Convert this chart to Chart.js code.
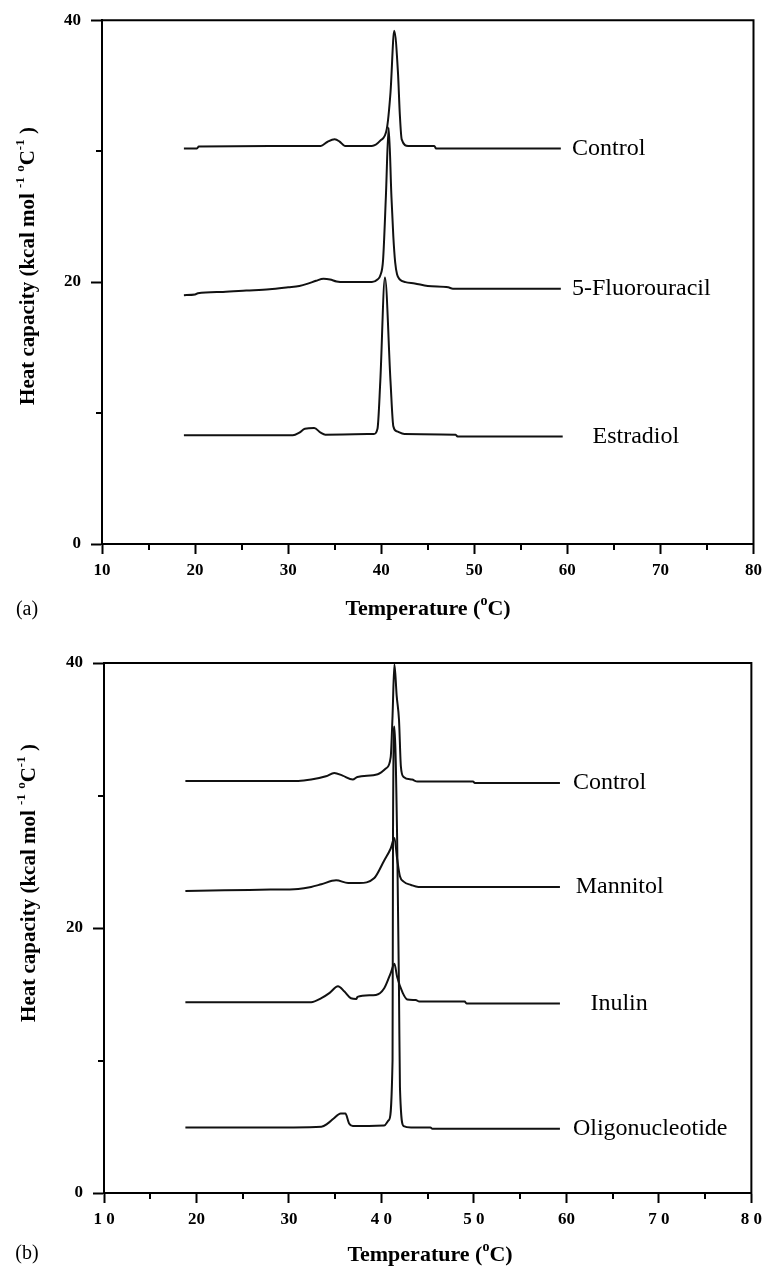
<!DOCTYPE html>
<html><head><meta charset="utf-8">
<script src="https://cdn.jsdelivr.net/npm/chart.js@4/dist/chart.umd.min.js"></script>
<style>
html,body{margin:0;padding:0;background:#fff;}
#wrap{position:relative;width:768px;height:1274px;background:#fff;}
canvas{position:absolute;left:0;}
</style>
</head><body>
<div id="wrap">
<canvas id="ca" width="768" height="637" style="top:0px"></canvas>
<canvas id="cb" width="768" height="637" style="top:637px"></canvas>
</div>
<script>
// ---------- DATA ----------
const xTickValues = [10,20,30,40,50,60,70,80];
const xTickLabelsA = ['10','20','30','40','50','60','70','80'];
const xTickLabelsB = ['1 0','20','30','4 0','5 0','60','7 0','8 0'];
const xMinorTicks = [15,25,35,45,55,65,75];
const yTickValues = [0,20,40];
const yTickLabels = ['0','20','40'];
const yMinorTicks = [10,30];

// Panel (a)
const namesA = ['Control','5-Fluorouracil','Estradiol'];
const controlA_T  = [18.8,20.2,20.4,33.5,34.2,35.0,35.5,36.1,39.0,39.9,40.6,41.0,41.4,41.8,42.0,42.2,42.9,45.7,45.9,59.3];
const controlA_Cp = [30.2,30.2,30.35,30.4,30.7,30.9,30.75,30.4,30.4,30.8,31.7,34.5,39.2,36.0,32.8,30.9,30.4,30.4,30.2,30.2];
const fluoroA_T  = [18.8,20.0,20.3,23.0,25.5,28.0,30.0,31.2,32.2,33.0,33.8,34.5,35.2,36.0,39.0,39.6,39.9,40.2,40.5,40.8,41.1,41.3,41.5,41.7,42.0,42.6,43.6,45.0,47.2,47.7,59.3];
const fluoroA_Cp = [19.0,19.05,19.15,19.25,19.35,19.45,19.6,19.7,19.9,20.1,20.25,20.2,20.05,20.0,20.0,20.2,20.5,21.7,26.5,31.8,26.5,23.5,21.5,20.6,20.2,20.0,19.9,19.7,19.6,19.5,19.5];
const estradiolA_T  = [18.8,30.5,31.2,31.8,32.8,33.5,34.0,39.2,39.6,39.9,40.4,41.0,41.3,41.7,42.5,48.0,48.2,59.5];
const estradiolA_Cp = [8.3,8.3,8.5,8.8,8.85,8.5,8.35,8.4,8.8,12.4,20.35,12.4,9.0,8.6,8.4,8.35,8.2,8.2];
const labelTA = [60.5,60.5,62.7];

// Panel (b)
const namesB = ['Control','Mannitol','Inulin','Oligonucleotide'];
const controlB_T  = [18.8,31.0,32.4,34.0,34.9,35.8,36.9,37.4,39.6,40.5,41.0,41.2,41.4,41.65,41.9,42.1,42.4,43.3,43.9,49.9,50.1,59.3];
const controlB_Cp = [31.1,31.1,31.2,31.45,31.7,31.5,31.2,31.4,31.6,32.05,32.9,36.0,39.9,37.5,35.7,32.2,31.4,31.2,31.05,31.05,30.95,30.95];
const mannitolB_T  = [18.8,23.0,28.0,31.0,32.4,33.5,35.1,36.4,37.6,39.2,40.3,41.0,41.4,41.7,42.0,42.4,43.2,44.0,59.3];
const mannitolB_Cp = [22.8,22.85,22.9,22.95,23.1,23.3,23.6,23.4,23.4,23.75,25.1,26.0,26.8,25.2,23.9,23.5,23.25,23.1,23.1];
const inulinB_T  = [18.8,32.4,33.5,34.4,35.3,36.0,36.7,37.3,37.4,39.4,40.3,41.0,41.4,41.7,42.3,42.8,43.7,44.1,49.0,49.2,59.3];
const inulinB_Cp = [14.4,14.4,14.7,15.1,15.6,15.2,14.7,14.65,14.8,14.95,15.45,16.6,17.3,16.3,15.1,14.6,14.57,14.45,14.45,14.3,14.3];
const oligoB_T  = [18.8,30.5,33.5,34.2,34.8,35.6,36.1,36.5,36.9,40.3,40.8,41.2,41.25,41.4,41.7,41.9,42.0,42.4,43.2,45.3,45.5,59.3];
const oligoB_Cp = [4.95,4.95,5.0,5.25,5.6,6.0,6.0,5.25,5.05,5.1,5.5,10.0,27.0,35.2,26.6,15.0,8.0,5.05,4.95,4.95,4.85,4.85];
const labelTB = [60.7,61.0,62.6,60.7];

// ---------- RENDERING ----------
const SERIF = '"Liberation Serif","Times New Roman",serif';

function drawRich(ctx, segs, cx, cy, size, rot) {
  ctx.save();
  ctx.translate(cx, cy);
  if (rot) ctx.rotate(rot);
  const main = 'bold ' + size + 'px ' + SERIF;
  const sup = 'bold ' + Math.round(size * 0.62) + 'px ' + SERIF;
  let w = 0;
  segs.forEach(s => { ctx.font = s.sup ? sup : main; w += ctx.measureText(s.t).width; });
  let x = -w / 2;
  ctx.textBaseline = 'alphabetic';
  ctx.textAlign = 'left';
  ctx.fillStyle = '#000';
  const base = size * 0.33;
  segs.forEach(s => {
    ctx.font = s.sup ? sup : main;
    ctx.fillText(s.t, x, base - (s.sup ? size * 0.45 : 0));
    x += ctx.measureText(s.t).width;
  });
  ctx.restore();
}

const decor = {
  id: 'decor',
  afterDraw(chart, args, o) {
    const ctx = chart.ctx, a = chart.chartArea;
    const xs = chart.scales.x, ys = chart.scales.y;
    ctx.save();
    ctx.strokeStyle = '#000';
    ctx.lineWidth = 2;
    // frame top & right
    ctx.beginPath();
    ctx.moveTo(a.left - 1, a.top);
    ctx.lineTo(a.right, a.top);
    ctx.lineTo(a.right, a.bottom + 1);
    ctx.stroke();
    // minor ticks
    ctx.beginPath();
    xMinorTicks.forEach(v => { const px = Math.round(xs.getPixelForValue(v)); ctx.moveTo(px, a.bottom); ctx.lineTo(px, a.bottom + 6); });
    yMinorTicks.forEach(v => { const py = Math.round(ys.getPixelForValue(v)); ctx.moveTo(a.left, py); ctx.lineTo(a.left - 6, py); });
    ctx.stroke();
    // series labels
    ctx.fillStyle = '#000';
    ctx.font = o.labelSize + 'px ' + SERIF;
    ctx.textAlign = 'left';
    ctx.textBaseline = 'middle';
    chart.data.datasets.forEach((ds, i) => {
      const last = ds.data[ds.data.length - 1];
      ctx.fillText(ds.label, xs.getPixelForValue(o.labelT[i]), ys.getPixelForValue(last.y));
    });
    // axis titles
    drawRich(ctx, [{t:'Heat capacity (kcal mol '},{t:'-1',sup:true},{t:' '},{t:'o',sup:true},{t:'C'},{t:'-1',sup:true},{t:' )'}], o.yTitle[0], o.yTitle[1], o.yTitleSize, -Math.PI/2);
    drawRich(ctx, [{t:'Temperature ('},{t:'o',sup:true},{t:'C)'}], o.xTitle[0], o.xTitle[1], o.xTitleSize, 0);
    // panel tag
    ctx.font = o.tagSize + 'px ' + SERIF;
    ctx.textAlign = 'center';
    ctx.textBaseline = 'middle';
    ctx.fillText(o.tag, o.tagPos[0], o.tagPos[1]);
    ctx.restore();
  }
};

function makeChart(id, names, Ts, Cps, xLabels, cfg) {
  const datasets = names.map((n, i) => ({
    label: n,
    data: Ts[i].map((t, j) => ({x: t, y: Cps[i][j]})),
    borderColor: '#111',
    borderWidth: 2,
    pointRadius: 0,
    fill: false,
    cubicInterpolationMode: 'monotone'
  }));
  const tickFont = {family: SERIF, weight: 'bold', size: 17};
  return new Chart(document.getElementById(id), {
    type: 'line',
    data: {datasets},
    options: {
      responsive: false,
      animation: false,
      events: [],
      layout: {padding: {top: cfg.top, right: cfg.right, left: 0, bottom: 0}},
      plugins: {
        legend: {display: false},
        tooltip: {enabled: false},
        decor: cfg.decor
      },
      scales: {
        x: {
          type: 'linear', min: 10, max: 80,
          afterBuildTicks: s => { s.ticks = xTickValues.map(v => ({value: v})); },
          afterFit: s => { s.height = cfg.xh; },
          ticks: {callback: (v, i) => xLabels[i], font: tickFont, color: '#000', padding: 6, maxRotation: 0, autoSkip: false},
          grid: {drawOnChartArea: false, tickLength: 10, tickWidth: 2, tickColor: '#000'},
          border: {color: '#000', width: 2}
        },
        y: {
          type: 'linear', min: 0, max: 40,
          afterBuildTicks: s => { s.ticks = yTickValues.map(v => ({value: v})); },
          afterFit: s => { s.width = cfg.yw; },
          ticks: {callback: (v, i) => yTickLabels[i], font: tickFont, color: '#000', padding: 10},
          grid: {drawOnChartArea: false, tickLength: 11, tickWidth: 2, tickColor: '#000'},
          border: {color: '#000', width: 2}
        }
      }
    },
    plugins: [decor]
  });
}

makeChart('ca', namesA,
  [controlA_T, fluoroA_T, estradiolA_T],
  [controlA_Cp, fluoroA_Cp, estradiolA_Cp],
  xTickLabelsA,
  {top: 14, right: 11, xh: 93, yw: 102,
   decor: {labelT: labelTA, labelSize: 24, yTitleSize: 21, xTitleSize: 22, yTitle: [27, 266], xTitle: [428, 608], tag: '(a)', tagPos: [27, 610], tagSize: 20}});

makeChart('cb', namesB,
  [controlB_T, mannitolB_T, inulinB_T, oligoB_T],
  [controlB_Cp, mannitolB_Cp, inulinB_Cp, oligoB_Cp],
  xTickLabelsB,
  {top: 26, right: 11, xh: 81, yw: 104,
   decor: {labelT: labelTB, labelSize: 24, yTitleSize: 21, xTitleSize: 22, yTitle: [28, 246], xTitle: [430, 617], tag: '(b)', tagPos: [27, 617], tagSize: 20}});
</script>
</body></html>
